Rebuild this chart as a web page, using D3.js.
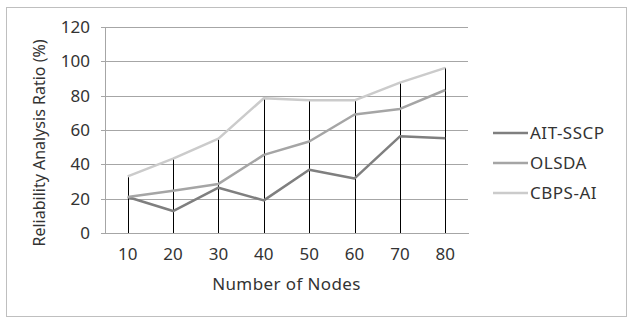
<!DOCTYPE html>
<html>
<head>
<meta charset="utf-8">
<script src="https://cdn.jsdelivr.net/npm/d3@7"></script>
<style>
  body { margin: 0; background: #fff; }
  text { font-family: "Noto Sans", sans-serif; fill: #333; }
</style>
</head>
<body>
<div id="chart"></div>
<script>
// categories (number of nodes)
var nodes = ["10", "20", "30", "40", "50", "60", "70", "80"];

// series values
var aitSscp = [21, 12.8, 26.4, 19, 36.8, 31.8, 56.3, 55.2];
var olsda   = [21, 24.6, 28.6, 45.5, 53.3, 69, 72.3, 83.3];
var cbpsAi  = [33, 43.3, 55, 78.5, 77.3, 77.3, 87.6, 96.2];

var seriesNames = ["AIT-SSCP", "OLSDA", "CBPS-AI"];
var seriesColors = ["#7f7f7f", "#a5a5a5", "#cbcbcb"];

var yTicks = [0, 20, 40, 60, 80, 100, 120];

var width = 631, height = 321;
var plot = {left: 105, right: 468, top: 27, bottom: 233};

var svg = d3.select("#chart").append("svg")
    .attr("width", width)
    .attr("height", height);

// outer frame
svg.append("rect")
    .attr("x", 6.5).attr("y", 7.5)
    .attr("width", 620).attr("height", 309)
    .attr("fill", "#fff")
    .attr("stroke", "#bfbfbf")
    .attr("stroke-width", 1);

var x = d3.scaleBand()
    .domain(nodes)
    .range([plot.left, plot.right]);

var y = d3.scaleLinear()
    .domain([0, 120])
    .range([plot.bottom, plot.top]);

// gridlines + y axis
var yAxis = d3.axisLeft(y)
    .tickValues(yTicks)
    .tickSize(-(plot.right - plot.left))
    .tickPadding(15);

var gy = svg.append("g")
    .attr("transform", "translate(" + plot.left + ",0)")
    .call(yAxis);
gy.select(".domain").remove();
gy.selectAll(".tick line")
    .attr("x1", -4)
    .attr("stroke", "#a6a6a6")
    .attr("shape-rendering", "crispEdges");
gy.selectAll(".tick text")
    .style("font-size", "17px")
    .attr("fill", "#333");

// left axis line
svg.append("line")
    .attr("x1", plot.left).attr("x2", plot.left)
    .attr("y1", plot.top).attr("y2", plot.bottom)
    .attr("stroke", "#a6a6a6")
    .attr("shape-rendering", "crispEdges");

// x axis
var gx = svg.append("g")
    .attr("transform", "translate(0," + plot.bottom + ")")
    .call(d3.axisBottom(x).tickSize(0).tickPadding(15));
gx.select(".domain")
    .attr("stroke", "#a6a6a6")
    .attr("shape-rendering", "crispEdges");
gx.selectAll(".tick text")
    .style("font-size", "17px")
    .attr("fill", "#333");

// drop lines from the highest value down to the axis
var tops = nodes.map(function(n, i) {
    return d3.max([aitSscp[i], olsda[i], cbpsAi[i]]);
});
svg.append("g")
    .selectAll("line")
    .data(nodes)
    .enter()
    .append("line")
    .attr("x1", function(d) { return Math.round(x(d) + x.bandwidth() / 2) + 0.5; })
    .attr("x2", function(d) { return Math.round(x(d) + x.bandwidth() / 2) + 0.5; })
    .attr("y1", function(d, i) { return y(tops[i]); })
    .attr("y2", y(0))
    .attr("stroke", "#000")
    .attr("stroke-width", 1);

// series lines
var allSeries = [aitSscp, olsda, cbpsAi];
var line = d3.line()
    .x(function(d, i) { return x(nodes[i]) + x.bandwidth() / 2; })
    .y(function(d) { return y(d); });

svg.append("g")
    .selectAll("path")
    .data(allSeries)
    .enter()
    .append("path")
    .attr("d", line)
    .attr("fill", "none")
    .attr("stroke", function(d, i) { return seriesColors[i]; })
    .attr("stroke-width", 2.5)
    .attr("stroke-linejoin", "round");

// axis titles
svg.append("text")
    .attr("x", (plot.left + plot.right) / 2)
    .attr("y", 290)
    .attr("text-anchor", "middle")
    .style("font-size", "17px")
    .style("letter-spacing", "0.4px")
    .text("Number of Nodes");

svg.append("text")
    .attr("transform", "translate(45," + 143 + ") rotate(-90)")
    .attr("text-anchor", "middle")
    .style("font-size", "16px")
    .text("Reliability Analysis Ratio (%)");

// legend
var legend = svg.append("g")
    .selectAll("g")
    .data(seriesNames)
    .enter()
    .append("g")
    .attr("transform", function(d, i) { return "translate(493," + (133 + i * 30) + ")"; });

legend.append("line")
    .attr("x1", 0).attr("x2", 35)
    .attr("y1", 0).attr("y2", 0)
    .attr("stroke", function(d, i) { return seriesColors[i]; })
    .attr("stroke-width", 2.5);

legend.append("text")
    .attr("x", 37)
    .attr("dy", "0.35em")
    .style("font-size", "17px")
    .style("letter-spacing", "0.5px")
    .text(function(d) { return d; });
</script>
</body>
</html>
